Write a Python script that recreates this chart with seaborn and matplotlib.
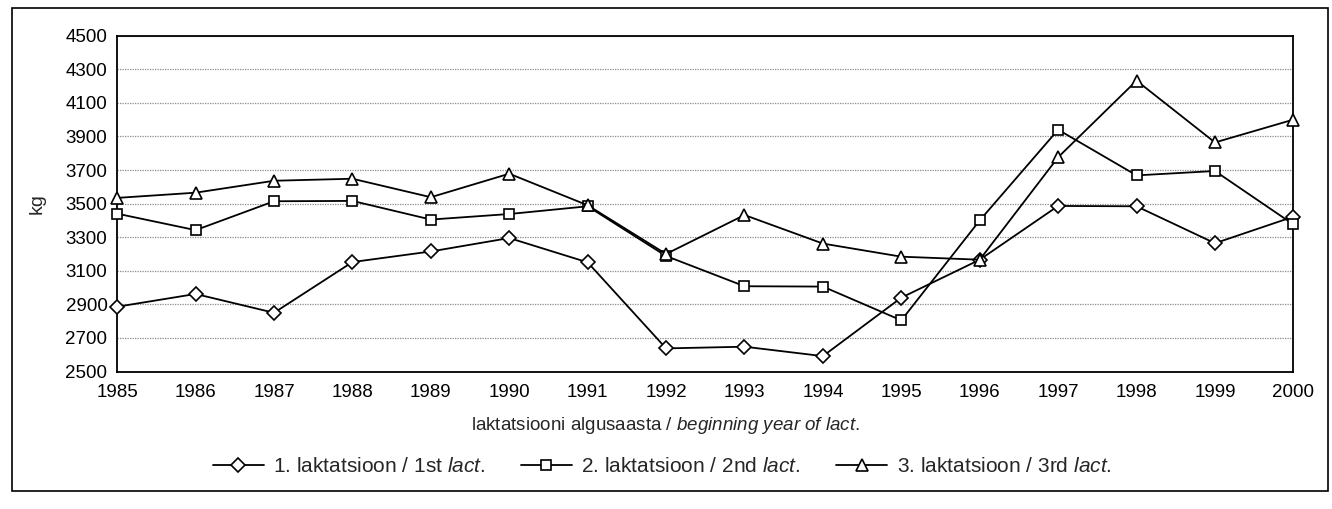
import matplotlib
matplotlib.use("Agg")
import matplotlib.pyplot as plt
from matplotlib.patches import Rectangle
import seaborn as sns
import pandas as pd

years = list(range(1985, 2001))
lact1 = [2886, 2962, 2850, 3152, 3215, 3295, 3150, 2638, 2648, 2592, 2940, 3166, 3486, 3484, 3264, 3422]
lact2 = [3440, 3342, 3514, 3516, 3405, 3438, 3484, 3188, 3008, 3006, 2805, 3400, 3940, 3668, 3694, 3376]
lact3 = [3534, 3565, 3636, 3648, 3538, 3678, 3490, 3200, 3432, 3262, 3184, 3166, 3776, 4232, 3864, 4000]
labels = [r"1. laktatsioon / 1st $\it{lact.}$",
          r"2. laktatsioon / 2nd $\it{lact.}$",
          r"3. laktatsioon / 3rd $\it{lact.}$"]
markers = ["D", "s", "^"]
msizes = [7, 7, 8]
yticks = list(range(2500, 4501, 200))

sns.set_theme(style="white")
plt.rcParams["font.family"] = ["Liberation Sans", "DejaVu Sans"]
plt.rcParams["mathtext.fontset"] = "custom"
plt.rcParams["mathtext.rm"] = "Liberation Sans"
plt.rcParams["mathtext.it"] = "Liberation Sans:italic"

fig = plt.figure(figsize=(13.32, 5.09), dpi=100)
ax = fig.add_axes([0.088, 0.27, 0.883, 0.66])

for vals, lab, mk, ms in zip([lact1, lact2, lact3], labels, markers, msizes):
    df = pd.DataFrame({"year": years, "kg": vals})
    sns.lineplot(data=df, x="year", y="kg", ax=ax, color="black", lw=1.3,
                 marker=mk, markersize=ms, markerfacecolor="white",
                 markeredgecolor="black", markeredgewidth=1.2, label=lab,
                 zorder=3, clip_on=False)

ax.set_xlim(1985, 2000)
ax.set_ylim(2500, 4500)
ax.set_xticks(years)
ax.set_yticks(yticks)
ax.tick_params(axis="both", length=0, labelsize=13.5, colors="black")
ax.tick_params(axis="x", pad=9)
ax.tick_params(axis="y", pad=7)
ax.yaxis.grid(True, linestyle=(0, (1, 1)), color="#8a8a8a", lw=0.9)
for s in ax.spines.values():
    s.set_color("black")
    s.set_linewidth(1.3)

ax.set_ylabel("kg", fontsize=14, labelpad=14)
ax.set_xlabel("")
fig.text(666 / 1332, 1 - 425 / 509,
         r"laktatsiooni algusaasta / $\it{beginning\ year\ of\ lact.}$",
         fontsize=13.5, ha="center", va="center")

ax.legend(loc="center", bbox_to_anchor=(662 / 1332, 1 - 467 / 509), bbox_transform=fig.transFigure,
          ncol=3, frameon=False, fontsize=15, handlelength=2.45, columnspacing=1.7,
          handletextpad=0.45, borderaxespad=0, borderpad=0)

fig.patches.append(Rectangle((0.009, 0.035), 0.988, 0.95, transform=fig.transFigure,
                             fill=False, edgecolor="black", lw=1.2))

fig.savefig("out.png", dpi=100, facecolor="white")
